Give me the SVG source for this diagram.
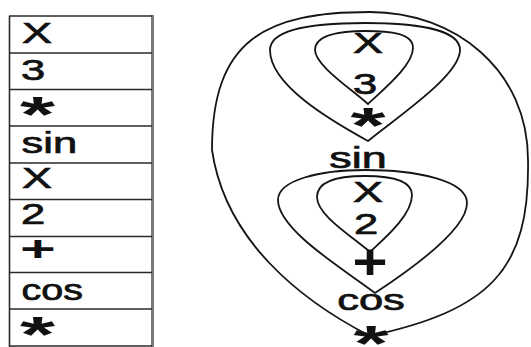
<svg xmlns="http://www.w3.org/2000/svg" width="531" height="347" viewBox="0 0 531 347">
<style>
.t{font-family:"Liberation Sans",Arial,sans-serif;font-size:29px;fill:#111;stroke:#111;stroke-width:0.7}
.s{font-family:"Liberation Sans",Arial,sans-serif;font-size:50px;font-weight:bold;fill:#111}
.p{font-family:"Liberation Sans",Arial,sans-serif;font-weight:bold;fill:#111}
.row{stroke:#2a2a2a;stroke-width:1.6}
.loop{fill:none;stroke:#151515;stroke-width:1.8}
.c{text-anchor:middle}
</style>
<rect width="531" height="347" fill="#fff"/>
<g id="table">
  <line class="row" x1="9.5" y1="16" x2="9.5" y2="347"/>
  <line x1="152.5" y1="15" x2="152.5" y2="347" stroke="#7a7a7a" stroke-width="3"/>
  <line class="row" x1="9" y1="16" x2="152" y2="16"/>
  <line class="row" x1="9" y1="53" x2="152" y2="53"/>
  <line class="row" x1="9" y1="89.5" x2="152" y2="89.5"/>
  <line class="row" x1="9" y1="126" x2="152" y2="126"/>
  <line class="row" x1="9" y1="163" x2="152" y2="163"/>
  <line class="row" x1="9" y1="199.5" x2="152" y2="199.5"/>
  <line class="row" x1="9" y1="236.5" x2="152" y2="236.5"/>
  <line class="row" x1="9" y1="272.5" x2="152" y2="272.5"/>
  <line class="row" x1="9" y1="309" x2="152" y2="309"/>
  <line class="row" x1="9" y1="346" x2="152" y2="346"/>
</g>
<g id="cell1"><text class="t" transform="translate(22,43) scale(1.55,1)">X</text></g>
<g id="cell2"><text class="t" transform="translate(21,79.5) scale(1.5,1)">3</text></g>
<g id="cell3"><text class="s" transform="translate(20,132) scale(1.8,1)">*</text></g>
<g id="cell4"><text class="t" transform="translate(21.5,153) scale(1.5,1)">sin</text></g>
<g id="cell5"><text class="t" transform="translate(22,187.5) scale(1.55,1)">X</text></g>
<g id="cell6"><text class="t" transform="translate(21,224) scale(1.5,1)">2</text></g>
<g id="cell7"><text class="p" font-size="36" transform="translate(20,261) scale(1.7,1)">+</text></g>
<g id="cell8"><text class="t" transform="translate(21.5,300) scale(1.36,1)">cos</text></g>
<g id="cell9"><text class="s" transform="translate(20,352) scale(1.8,1)">*</text></g>
<g id="loops">
  <path id="outer" class="loop" d="M370,336 C300,300 225,240 212,150 C212,40 265,12 370,12 C455,12 528,70 528,160 C530,270 490,310 370,336 Z"/>
  <path id="upperMid" class="loop" d="M368,141 C330,120 270,85 270,50 C270,30 310,23 365,23 C410,23 460,28 460,50 C460,75 400,115 368,141 Z"/>
  <path id="upperInner" class="loop" d="M368,104 C350,88 315,65 315,50 C315,35 340,31 365,31 C390,31 413,33 413,48 C413,65 385,88 368,104 Z"/>
  <path id="lowerMid" class="loop" d="M375,293 C345,270 278,230 278,200 C278,180 320,170 365,170 C415,170 467,180 467,203 C467,230 410,270 375,293 Z"/>
  <path id="lowerInner" class="loop" d="M370,252 C350,235 317,215 317,197 C317,180 340,176 365,176 C390,176 412,180 412,195 C412,215 385,238 370,252 Z"/>
</g>
<g id="nX1"><text class="t c" transform="translate(368,53) scale(1.55,1)">X</text></g>
<g id="n3"><text class="t c" transform="translate(365,94) scale(1.5,1)">3</text></g>
<g id="nMul1"><text class="s c" transform="translate(368,143) scale(1.8,1)">*</text></g>
<g id="nSin"><text class="t c" transform="translate(358,168) scale(1.55,1)">sin</text></g>
<g id="nX2"><text class="t c" transform="translate(368,202) scale(1.55,1)">X</text></g>
<g id="n2"><text class="t c" transform="translate(366,234) scale(1.5,1)">2</text></g>
<g id="nPlus"><text class="p c" font-size="50" transform="translate(370,279) scale(1.2,1)">+</text></g>
<g id="nCos"><text class="t c" transform="translate(371,310) scale(1.5,1)">cos</text></g>
<g id="nMul2"><text class="s c" transform="translate(371,361) scale(1.8,1)">*</text></g>
</svg>
